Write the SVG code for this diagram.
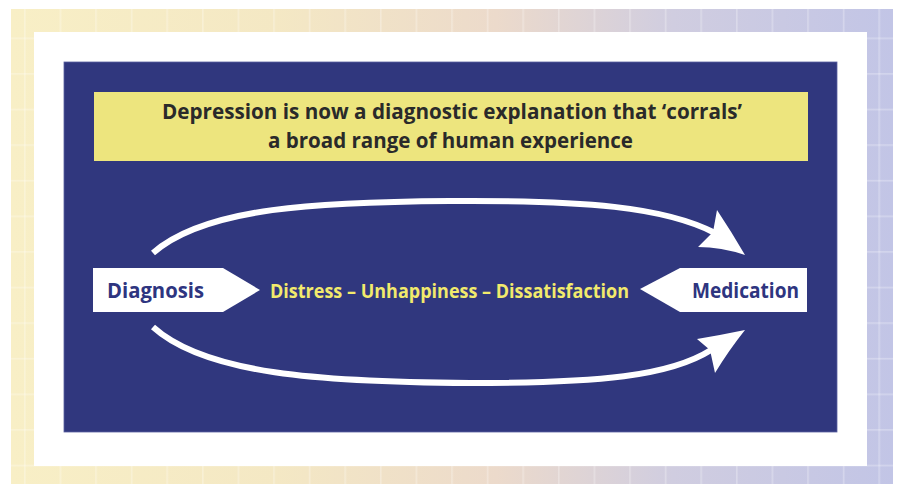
<svg xmlns="http://www.w3.org/2000/svg" width="898" height="484" viewBox="0 0 898 484">
  <defs>
    <linearGradient id="bg" x1="0" y1="0" x2="1" y2="0">
      <stop offset="0" stop-color="#f8efc6"/>
      <stop offset="0.3" stop-color="#f4e8c4"/>
      <stop offset="0.55" stop-color="#ecdacb"/>
      <stop offset="0.75" stop-color="#d0cde0"/>
      <stop offset="1" stop-color="#c2c5e6"/>
    </linearGradient>
    <pattern id="grid" patternUnits="userSpaceOnUse" x="24" y="37.5" width="35.6" height="35.6">
      <rect x="0" y="0" width="1.6" height="35.6" fill="#ffffff" fill-opacity="0.28"/>
      <rect x="0" y="0" width="35.6" height="1.6" fill="#ffffff" fill-opacity="0.28"/>
    </pattern>
    <style>
      .title { font-family: "Open Sans", "Liberation Sans", sans-serif; font-weight: bold; font-size: 21px; fill: #2a2a2a; }
      .node-text { font-family: "Open Sans", "Liberation Sans", sans-serif; font-weight: bold; font-size: 22px; fill: #2e3580; }
      .mid-text { font-family: "Open Sans", "Liberation Sans", sans-serif; font-weight: bold; font-size: 19.5px; fill: #f2ea6c; }
      .node-shape { fill: #ffffff; }
      .arc { fill: none; stroke: #ffffff; stroke-width: 6; stroke-linecap: butt; }
      .head { fill: #ffffff; }
    </style>
  </defs>

  <!-- background -->
  <rect x="0" y="0" width="898" height="484" fill="#ffffff"/>
  <rect x="11" y="9" width="882" height="475" fill="url(#bg)"/>
  <rect x="11" y="9" width="882" height="475" fill="url(#grid)"/>

  <!-- white frame -->
  <rect x="34" y="32" width="833" height="434" fill="#ffffff"/>
  <!-- dark panel -->
  <rect x="64" y="62" width="773" height="370" fill="#30377e" stroke="#5a60a0" stroke-width="0.8"/>

  <!-- title box -->
  <g id="title">
    <rect x="94" y="92" width="714" height="69" fill="#ede57e"/>
    <text class="title" x="452" y="119" text-anchor="middle" textLength="580" lengthAdjust="spacingAndGlyphs">Depression is now a diagnostic explanation that ‘corrals’</text>
    <text class="title" x="450.5" y="148" text-anchor="middle" textLength="365" lengthAdjust="spacingAndGlyphs">a broad range of human experience</text>
  </g>

  <!-- connectors -->
  <g id="connectors">
    <path class="arc" d="M153,253 C205,207 320,202 450,201 C585,200 665,207 715,233"/>
    <path class="head" d="M717,210 Q731,231 745,255 Q721,247 698,247 L713,232 Z"/>
    <path class="arc" d="M153,327 C205,374 320,382 470,383 C600,383 670,376 711,350"/>
    <path class="head" d="M697,339 Q721,335 745,330 Q729,350 715,373 L710,350 Z"/>
  </g>

  <g id="node-diagnosis">
    <path class="node-shape" d="M93,268 L223,268 L260,290 L223,312 L93,312 Z"/>
    <text class="node-text" x="107" y="298" textLength="97" lengthAdjust="spacingAndGlyphs">Diagnosis</text>
  </g>

  <g id="node-states">
    <text class="mid-text" x="270" y="298" textLength="359" lengthAdjust="spacingAndGlyphs">Distress – Unhappiness – Dissatisfaction</text>
  </g>

  <g id="node-medication">
    <path class="node-shape" d="M807,268 L680,268 L640,289 L680,312 L807,312 Z"/>
    <text class="node-text" x="692" y="298" textLength="107" lengthAdjust="spacingAndGlyphs">Medication</text>
  </g>
</svg>
